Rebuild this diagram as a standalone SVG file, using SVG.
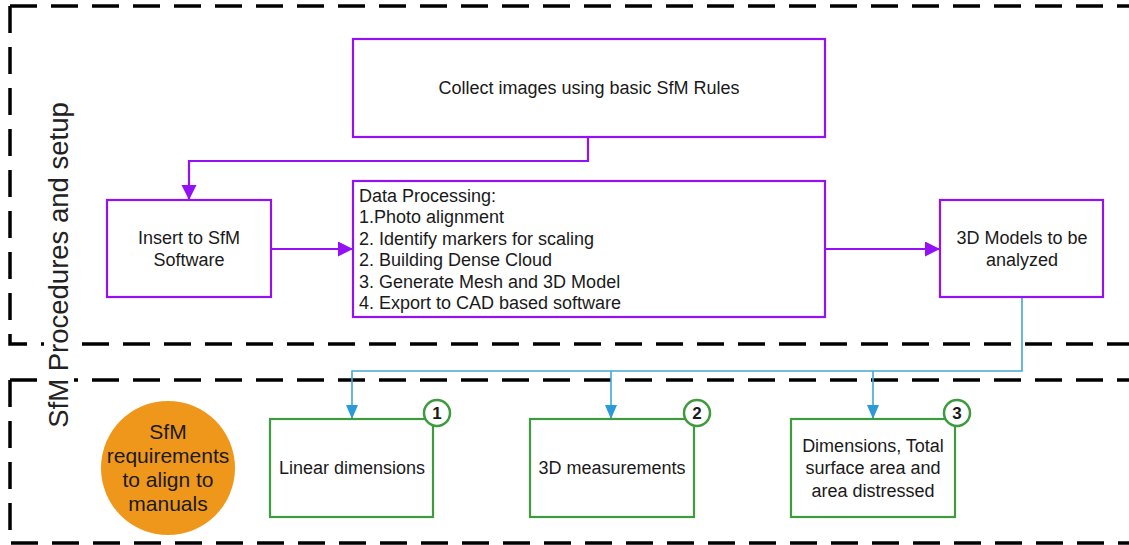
<svg xmlns="http://www.w3.org/2000/svg" width="1129" height="545" viewBox="0 0 1129 545">
<style>
.dash{fill:none;stroke:#000;stroke-width:3.5;stroke-dasharray:27 14}
.pbox{fill:#fff;stroke:#9410F5;stroke-width:2.2}
.gbox{fill:#fff;stroke:#3E9B3E;stroke-width:2.2}
.badge{fill:#fff;stroke:#3E9B3E;stroke-width:2.5}
.t{font-family:"Liberation Sans",Arial,sans-serif;font-size:18px;fill:#1a1a1a}
.c{text-anchor:middle}
.num{font-family:"Liberation Sans",Arial,sans-serif;font-size:17px;font-weight:bold;fill:#1a1a1a;text-anchor:middle}
.pl{fill:none;stroke:#9410F5;stroke-width:2.2}
.bl{fill:none;stroke:#45A5D5;stroke-width:1.6}
</style>
<defs>
<marker id="ap" markerWidth="16" markerHeight="16" refX="15" refY="7.5" orient="auto" markerUnits="userSpaceOnUse">
<path d="M0,0 L15,7.5 L0,15 Z" fill="#9410F5"/>
</marker>
<marker id="ab" markerWidth="14" markerHeight="14" refX="14" refY="6" orient="auto" markerUnits="userSpaceOnUse">
<path d="M0,0 L14,6 L0,12 Z" fill="#2A9AD8"/>
</marker>
</defs>
<rect width="1129" height="545" fill="#fff"/>
<g id="frames">
<path class="dash" d="M10,6 H1140"/>
<path class="dash" d="M10,6 V344 H1140"/>
<path class="dash" d="M10,380 H1140"/>
<path class="dash" d="M10,380 V543 H1140"/>
</g>
<g id="section-label">
<rect x="44" y="98" width="30" height="334" fill="#fff"/>
<text x="68" y="265" transform="rotate(-90 68 265)" text-anchor="middle" font-family="Liberation Sans, Arial, sans-serif" font-size="27.5" fill="#222">SfM Procedures and setup</text>
</g>
<g id="connectors">
<path class="pl" d="M588,137 V161 H189 V200" marker-end="url(#ap)"/>
<path class="pl" d="M271,249 H353" marker-end="url(#ap)"/>
<path class="pl" d="M825,249 H940" marker-end="url(#ap)"/>
<path class="bl" d="M1022,297 V371 H352 V419" marker-end="url(#ab)"/>
<path class="bl" d="M611,371 V419" marker-end="url(#ab)"/>
<path class="bl" d="M873,371 V419" marker-end="url(#ab)"/>
</g>
<g id="collect">
<rect class="pbox" x="353" y="39" width="472" height="98"/>
<text class="t c" x="589" y="94">Collect images using basic SfM Rules</text>
</g>
<g id="insert">
<rect class="pbox" x="107" y="200" width="164" height="97"/>
<text class="t c" x="189" y="244">Insert to SfM</text>
<text class="t c" x="189" y="266">Software</text>
</g>
<g id="processing">
<rect class="pbox" x="353" y="181" width="472" height="136"/>
<text class="t" x="359" y="201.5">Data Processing:</text>
<text class="t" x="359" y="223">1.Photo alignment</text>
<text class="t" x="359" y="244.5">2. Identify markers for scaling</text>
<text class="t" x="359" y="266">2. Building Dense Cloud</text>
<text class="t" x="359" y="287.5">3. Generate Mesh and 3D Model</text>
<text class="t" x="359" y="309">4. Export to CAD based software</text>
</g>
<g id="models">
<rect class="pbox" x="940" y="200" width="163" height="97"/>
<text class="t c" x="1022" y="244">3D Models to be</text>
<text class="t c" x="1022" y="266">analyzed</text>
</g>
<g id="requirements">
<circle cx="168" cy="468" r="67" fill="#EF971A"/>
<text class="t c" x="168" y="439" style="font-size:21px">SfM</text>
<text class="t c" x="168" y="463" style="font-size:21px">requirements</text>
<text class="t c" x="168" y="487" style="font-size:21px">to align to</text>
<text class="t c" x="168" y="511" style="font-size:21px">manuals</text>
</g>
<g id="linear">
<rect class="gbox" x="270" y="419" width="163" height="98"/>
<text class="t c" x="352" y="474">Linear dimensions</text>
<circle class="badge" cx="437" cy="413" r="13"/>
<text class="num" x="437" y="419">1</text>
</g>
<g id="measure3d">
<rect class="gbox" x="530" y="419" width="164" height="98"/>
<text class="t c" x="612" y="474">3D measurements</text>
<circle class="badge" cx="697" cy="413" r="13"/>
<text class="num" x="697" y="419">2</text>
</g>
<g id="area">
<rect class="gbox" x="791" y="419" width="164" height="98"/>
<text class="t c" x="873" y="452">Dimensions, Total</text>
<text class="t c" x="873" y="474">surface area and</text>
<text class="t c" x="873" y="497">area distressed</text>
<circle class="badge" cx="957" cy="413" r="13"/>
<text class="num" x="957" y="419">3</text>
</g>
</svg>
